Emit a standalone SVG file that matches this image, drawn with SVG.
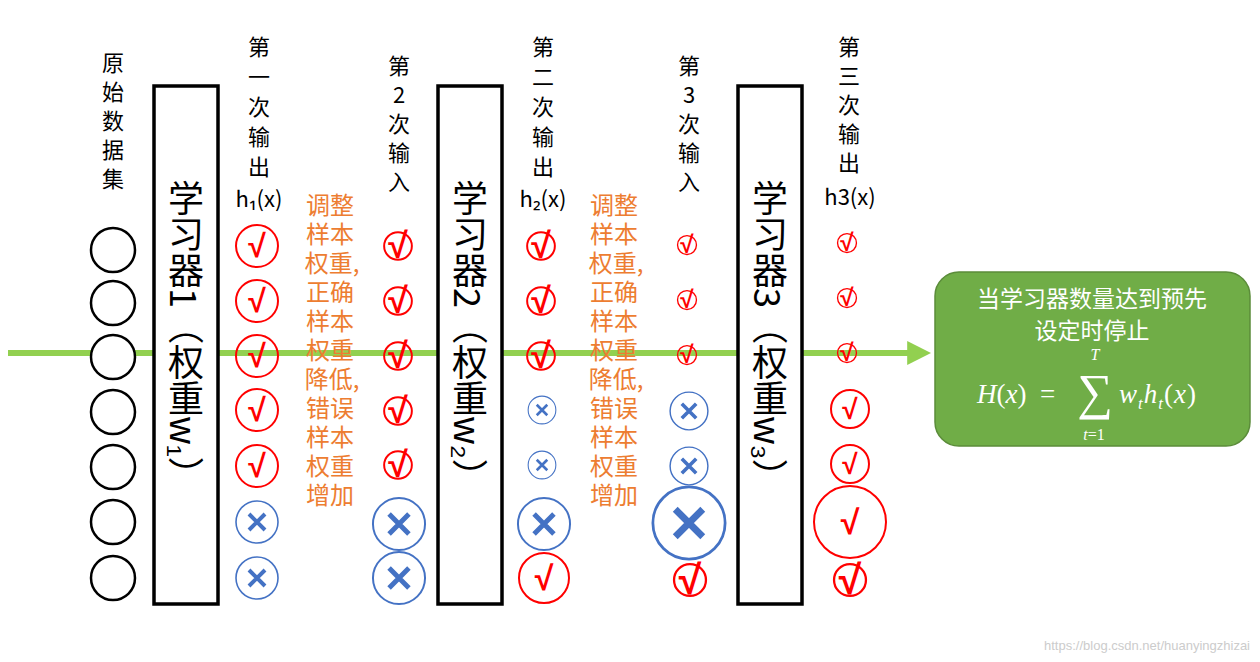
<svg xmlns="http://www.w3.org/2000/svg" xmlns:xlink="http://www.w3.org/1999/xlink" width="1260" height="662" viewBox="0 0 1260 662">
<style>
.lb{font-family:"Noto Sans CJK SC","Noto Sans",sans-serif;font-size:22px;fill:#000;text-anchor:middle}
.or{font-family:"Noto Sans CJK SC",sans-serif;font-size:24px;fill:#ed7d31;text-anchor:middle}
.bx{fill:#fff;stroke:#000;stroke-width:3.5}
.bt{font-family:"Noto Sans CJK SC",sans-serif;font-size:36px;fill:#000;writing-mode:vertical-rl;text-orientation:mixed}
.dot{fill:#fff;stroke:#000;stroke-width:2.5}
.m{font-family:"Liberation Serif",serif;font-style:italic;fill:#fff}
.rc{fill:none;stroke:#f00;stroke-width:2}
.ct{font-family:"Liberation Sans",sans-serif;font-weight:bold;fill:#f00;text-anchor:middle}
</style>
<defs>
<g id="ck"><circle r="21" fill="none" stroke="#f00" stroke-width="2"/><text y="11" text-anchor="middle" font-family="Liberation Sans,sans-serif" font-weight="bold" font-size="32" fill="#f00">√</text></g>
<g id="cks"><circle r="21" fill="none" stroke="#f00" stroke-width="3"/><text y="18" text-anchor="middle" font-family="Liberation Sans,sans-serif" font-weight="bold" font-size="54" fill="#f00">√</text></g>
<g id="cr"><circle r="21" fill="none" stroke="#4472c4" stroke-width="1.6"/><path d="M-8-8L8 8M8-8L-8 8" stroke="#4472c4" stroke-width="4"/></g>
<marker id="ar" viewBox="0 0 10 10" refX="2" refY="5" markerWidth="4" markerHeight="4" orient="auto"><path d="M0 0L10 5L0 10z" fill="#92d050"/></marker>
</defs>
<g id="connectors"><line x1="8" y1="353" x2="912" y2="353" stroke="#92d050" stroke-width="6" marker-end="url(#ar)"/></g>
<g id="data"><text class="lb" x="113" y="71">原</text><text class="lb" x="113" y="100">始</text><text class="lb" x="113" y="129">数</text><text class="lb" x="113" y="158">据</text><text class="lb" x="113" y="187">集</text>
<circle class="dot" cx="113" cy="250" r="22"/><circle class="dot" cx="113" cy="303" r="22"/><circle class="dot" cx="113" cy="357" r="22"/><circle class="dot" cx="113" cy="412" r="22"/><circle class="dot" cx="113" cy="467" r="22"/><circle class="dot" cx="113" cy="522" r="22"/><circle class="dot" cx="113" cy="578" r="22"/></g>
<g id="learner1"><rect class="bx" x="154" y="86" width="64" height="518"/><text class="bt" x="186" y="180">学习器1（权重w₁）</text></g>
<g id="learner2"><rect class="bx" x="438" y="86" width="64" height="518"/><text class="bt" x="470" y="180">学习器2（权重w₂）</text></g>
<g id="learner3"><rect class="bx" x="738" y="86" width="64" height="518"/><text class="bt" x="770" y="180">学习器3（权重w₃）</text></g>
<g id="out1"><text class="lb" x="259" y="55">第</text><text class="lb" x="259" y="85">一</text><text class="lb" x="259" y="115">次</text><text class="lb" x="259" y="145">输</text><text class="lb" x="259" y="175">出</text><text class="lb" x="259" y="207" font-family="Liberation Sans,sans-serif">h₁(x)</text>
<use href="#ck" x="257" y="246"/><use href="#ck" x="257" y="301"/><use href="#ck" x="257" y="356"/><use href="#ck" x="257" y="410"/><use href="#ck" x="257" y="466"/><use href="#cr" x="257" y="522"/><use href="#cr" x="257" y="578"/></g>
<g id="note1"><text class="or" x="330" y="214">调整</text><text class="or" x="330" y="243">样本</text><text class="or" x="332" y="272">权重,</text><text class="or" x="330" y="301">正确</text><text class="or" x="330" y="330">样本</text><text class="or" x="330" y="359">权重</text><text class="or" x="332" y="388">降低,</text><text class="or" x="330" y="417">错误</text><text class="or" x="330" y="446">样本</text><text class="or" x="330" y="475">权重</text><text class="or" x="330" y="504">增加</text></g>
<g id="in2"><text class="lb" x="399" y="74">第</text><text class="lb" x="399" y="103">2</text><text class="lb" x="399" y="132">次</text><text class="lb" x="399" y="161">输</text><text class="lb" x="399" y="190">入</text>
<use href="#cks" transform="translate(398 246) scale(.66)"/><use href="#cks" transform="translate(398 301) scale(.66)"/><use href="#cks" transform="translate(398 356) scale(.66)"/><use href="#cks" transform="translate(398 411) scale(.66)"/><use href="#cks" transform="translate(398 465) scale(.66)"/><use href="#cr" transform="translate(399 524) scale(1.24)"/><use href="#cr" transform="translate(399 578) scale(1.24)"/></g>
<g id="out2"><text class="lb" x="543" y="55">第</text><text class="lb" x="543" y="85">二</text><text class="lb" x="543" y="115">次</text><text class="lb" x="543" y="145">输</text><text class="lb" x="543" y="175">出</text><text class="lb" x="543" y="207" font-family="Liberation Sans,sans-serif">h₂(x)</text>
<use href="#cks" transform="translate(541 246) scale(.66)"/><use href="#cks" transform="translate(541 301) scale(.66)"/><use href="#cks" transform="translate(541 356) scale(.66)"/><use href="#cr" transform="translate(542 410) scale(.66)"/><use href="#cr" transform="translate(542 465) scale(.66)"/><use href="#cr" transform="translate(544 524) scale(1.24)"/>
<circle class="rc" cx="544" cy="578" r="25"/><text class="ct" x="544" y="590" font-size="34">√</text></g>
<g id="note2"><text class="or" x="614" y="214">调整</text><text class="or" x="614" y="243">样本</text><text class="or" x="616" y="272">权重,</text><text class="or" x="614" y="301">正确</text><text class="or" x="614" y="330">样本</text><text class="or" x="614" y="359">权重</text><text class="or" x="616" y="388">降低,</text><text class="or" x="614" y="417">错误</text><text class="or" x="614" y="446">样本</text><text class="or" x="614" y="475">权重</text><text class="or" x="614" y="504">增加</text></g>
<g id="in3"><text class="lb" x="689" y="74">第</text><text class="lb" x="689" y="103">3</text><text class="lb" x="689" y="132">次</text><text class="lb" x="689" y="161">输</text><text class="lb" x="689" y="190">入</text>
<use href="#cks" transform="translate(687 245) scale(.45)"/><use href="#cks" transform="translate(687 300) scale(.45)"/><use href="#cks" transform="translate(687 355) scale(.45)"/><use href="#cr" transform="translate(689 411) scale(.9)"/><use href="#cr" transform="translate(689 466) scale(.9)"/><use href="#cr" transform="translate(689 523) scale(1.72)"/><use href="#cks" transform="translate(690 580) scale(.76)"/></g>
<g id="out3"><text class="lb" x="849" y="55">第</text><text class="lb" x="849" y="84">三</text><text class="lb" x="849" y="113">次</text><text class="lb" x="849" y="142">输</text><text class="lb" x="849" y="171">出</text><text class="lb" x="850" y="205" font-family="Liberation Sans,sans-serif">h3(x)</text>
<use href="#cks" transform="translate(847 243) scale(.45)"/><use href="#cks" transform="translate(847 298) scale(.45)"/><use href="#cks" transform="translate(847 353) scale(.45)"/>
<circle class="rc" cx="850" cy="409" r="19"/><text class="ct" x="850" y="419" font-size="28">√</text>
<circle class="rc" cx="850" cy="464" r="19"/><text class="ct" x="850" y="474" font-size="28">√</text>
<circle class="rc" cx="850" cy="522" r="36"/><text class="ct" x="850" y="534" font-size="34">√</text>
<use href="#cks" transform="translate(850 580) scale(.76)"/></g>
<g id="result"><rect x="935" y="272" width="315" height="174" rx="24" fill="#70ad47" stroke="#5b8c3a" stroke-width="1.5"/>
<text x="1092" y="307" text-anchor="middle" font-family="Noto Sans CJK SC,sans-serif" font-size="23" fill="#fff">当学习器数量达到预先</text>
<text x="1092" y="339" text-anchor="middle" font-family="Noto Sans CJK SC,sans-serif" font-size="23" fill="#fff">设定时停止</text>
<text class="m" x="977" y="403" font-size="27">H<tspan font-style="normal">(</tspan>x<tspan font-style="normal">)</tspan></text>
<text x="1040" y="403" font-family="Liberation Serif,serif" font-size="27" fill="#fff">=</text>
<text x="1095" y="409" text-anchor="middle" font-family="Liberation Serif,serif" font-size="50" fill="#fff">∑</text>
<text class="m" x="1095" y="360" text-anchor="middle" font-size="16">T</text>
<text class="m" x="1094" y="440" text-anchor="middle" font-size="16">t<tspan font-style="normal">=1</tspan></text>
<text class="m" x="1119" y="403" font-size="27" letter-spacing="1">w<tspan font-size="17" dy="6">t</tspan><tspan dy="-6">h</tspan><tspan font-size="17" dy="6">t</tspan><tspan dy="-6" font-style="normal">(</tspan>x<tspan font-style="normal">)</tspan></text></g>
<text x="1250" y="650" text-anchor="end" font-family="Liberation Sans,sans-serif" font-size="13" fill="#ccc">https://blog.csdn.net/huanyingzhizai</text>
</svg>
